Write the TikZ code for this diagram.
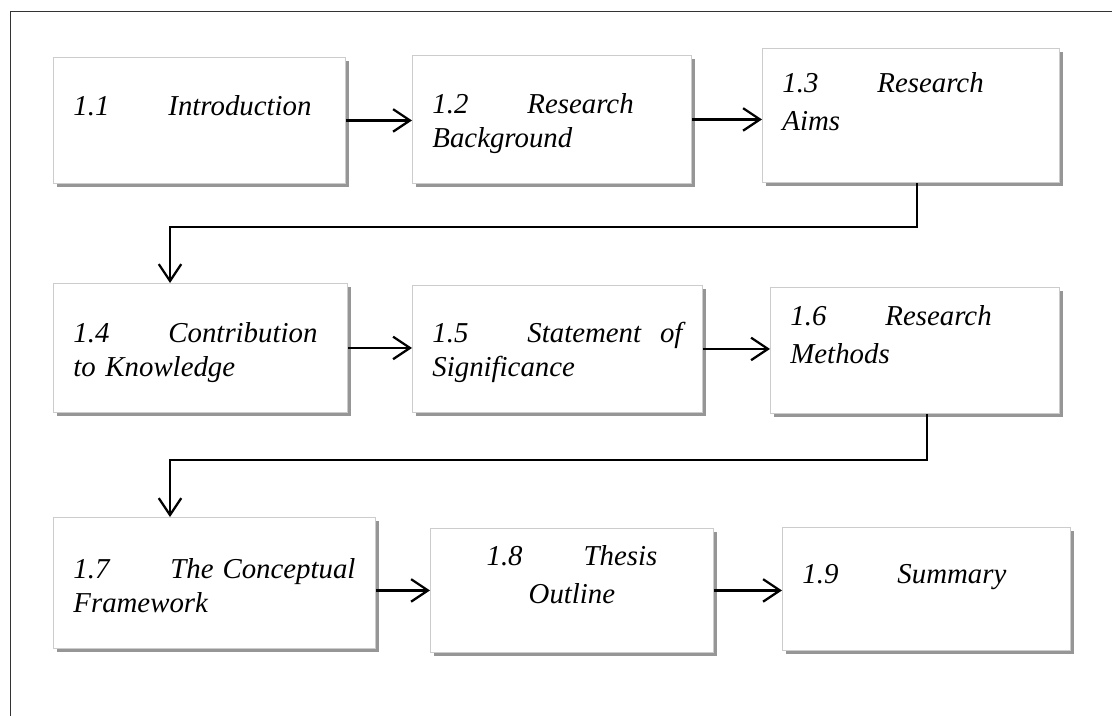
\documentclass[tikz,border=0pt]{standalone}
\usepackage{fontspec}
\setmainfont{Liberation Serif}
\usepackage{tikz}
\usetikzlibrary{arrows.meta, shadows}

\begin{document}
\begin{tikzpicture}[x=0.025cm, y=-0.025cm,
        secbox/.style={anchor=north west, fill=white, draw=black!20, line width=0.6pt,
            drop shadow={shadow xshift=0.08cm, shadow yshift=-0.1cm, fill=black!55, opacity=0.75},
            inner xsep=0.5cm, inner ysep=0pt, align=left,
            font=\fontsize{20.5}{24}\selectfont\itshape},
        flow/.style={line width=1.6pt, -{Straight Barb[length=12pt, width=16pt, line width=1.6pt]}}]
            \useasboundingbox (0, 0) rectangle (1112, 716);
            \draw[line width=0.6pt, black!80] (10, 716) -- (10, 11) -- (1112, 11);

            \node[secbox, text width=6.3cm, text height=1.45cm, text depth=1.7cm] (s1) at (53, 57)
                {\makebox[2.375cm][l]{1.1}Introduction};
            \node[secbox, text width=5.975cm, text height=1.45cm, text depth=1.75cm] (s2) at (412, 55)
                {\makebox[2.375cm][l]{1.2}Research\\Background};
            \node[secbox, text width=6.425cm, text height=1.1cm, text depth=2.25cm] (s3) at (762, 48)
                {\makebox[2.375cm][l]{1.3}Research\\[0.12cm]Aims};
            \node[secbox, text width=6.35cm, text height=1.475cm, text depth=1.75cm] (s4) at (53, 283)
                {\makebox[2.375cm][l]{1.4}Contribution\\to Knowledge};
            \node[secbox, text width=6.25cm, text height=1.425cm, text depth=1.75cm] (s5) at (412, 285)
                {\makebox[2.375cm][l]{1.5}Statement\hfill of\\Significance};
            \node[secbox, text width=6.225cm, text height=0.95cm, text depth=2.2cm] (s6) at (770, 287)
                {\makebox[2.375cm][l]{1.6}Research\\[0.1cm]Methods};
            \node[secbox, text width=7.05cm, text height=1.525cm, text depth=1.75cm] (s7) at (53, 517)
                {\makebox[2.425cm][l]{1.7}The\hfill Conceptual\\Framework};
            \node[secbox, align=center, text width=6.075cm, text height=0.925cm, text depth=2.175cm] (s8) at (430, 528)
                {\makebox[2.425cm][l]{1.8}Thesis\\[0.1cm]Outline};
            \node[secbox, text width=6.2cm, text height=1.4cm, text depth=1.675cm] (s9) at (782, 527)
                {\makebox[2.375cm][l]{1.9}Summary};

            \coordinate (k1) at (917, 227);
            \coordinate (k2) at (170, 227);
            \coordinate (k3) at (927, 460);
            \coordinate (k4) at (170, 460);

            \draw[flow] (s1.east) -- (s1.east -| s2.west);
            \draw[flow] (s2.east) -- (s2.east -| s3.west);
            \draw[flow] (s3.south -| k1) -- (k1) -- (k2) -- (k2 |- s4.north);
            \draw[flow] (s4.east) -- (s4.east -| s5.west);
            \draw[flow] (s5.east) -- (s5.east -| s6.west);
            \draw[flow] (s6.south -| k3) -- (k3) -- (k4) -- (k4 |- s7.north);
            \draw[flow] (s8.west -| s7.east) -- (s8.west);
            \draw[flow] (s8.east) -- (s8.east -| s9.west);
        \end{tikzpicture}
\end{document}
